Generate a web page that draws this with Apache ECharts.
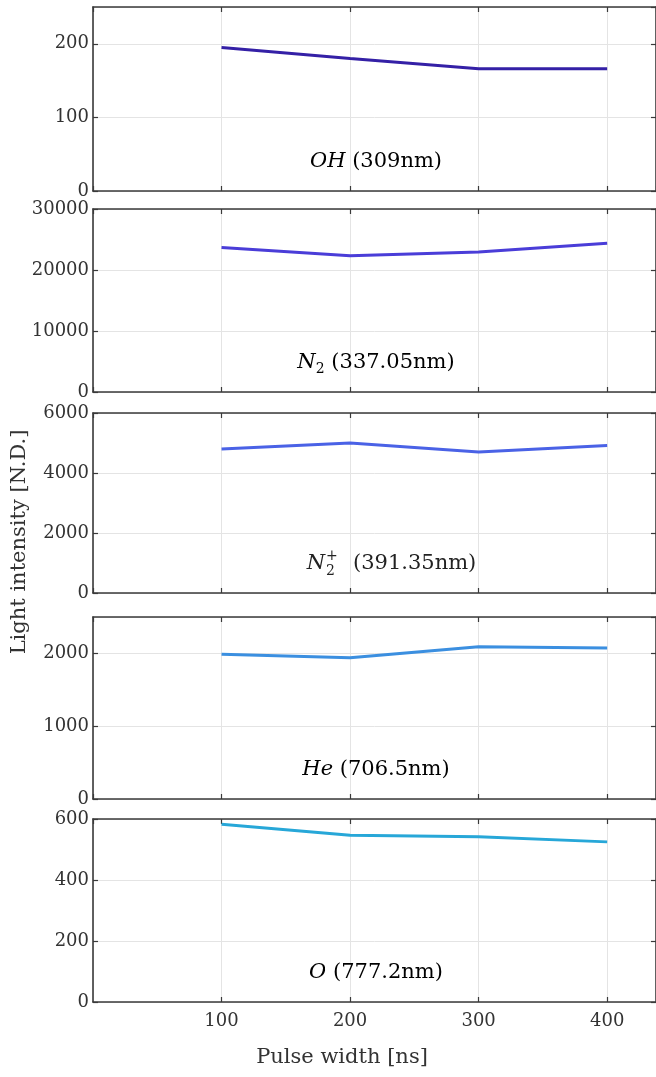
<!DOCTYPE html>
<html>
<head>
<meta charset="utf-8">
<script src="https://cdn.jsdelivr.net/npm/echarts@6/dist/echarts.min.js"></script>
<style>
html,body{margin:0;padding:0;background:#fff;}
#chart{width:656px;height:1077px;}
</style>
</head>
<body>
<div id="chart"></div>
<script>
// ---- data ----
const pulseWidth = [100, 200, 300, 400];
const ohValues  = [195, 180, 166, 166];
const n2Values  = [23700, 22350, 22950, 24400];
const n2pValues = [4800, 5000, 4700, 4920];
const heValues  = [1990, 1940, 2090, 2075];
const oValues   = [583, 547, 542, 525];
const xTicks = [100, 200, 300, 400];
const yMax = [250, 30000, 6000, 2500, 600];
const yStep = [100, 10000, 2000, 1000, 200];
const seriesNames = ['OH', 'N2', 'N2+', 'He', 'O'];
const wavelengths = ['(309nm)', '(337.05nm)', '(391.35nm)', '(706.5nm)', '(777.2nm)'];
const xTitle = 'Pulse width [ns]';
const yTitle = 'Light intensity [N.D.]';

// ---- layout ----
const panelTops = [7, 209, 413, 617, 819];
const panelHeights = [184, 183, 180, 182, 183];
const colors = ['#3420a6', '#4a3dd8', '#4a62e6', '#3b8fe0', '#27a7d8'];
const allValues = [ohValues, n2Values, n2pValues, heValues, oValues];
const FONT = 'DejaVu Serif';
const axisCol = '#3a3a3a';

const chart = echarts.init(document.getElementById('chart'), null, {renderer: 'canvas'});

const plain = v => String(v);
const grids = [], xAxes = [], yAxes = [], series = [];
panelTops.forEach((top, i) => {
  grids.push({left: 93, right: -2, top: top, height: panelHeights[i], show: false});
  const last = i === panelTops.length - 1;
  const lineCfg = {show: true, onZero: false, lineStyle: {color: axisCol, width: 1.6}};
  const tickCfg = {show: true, inside: true, length: 5, lineStyle: {color: axisCol, width: 1.2}};
  xAxes.push({
    type: 'value', gridIndex: i, min: 0, max: 438, interval: 100, position: 'bottom',
    axisLine: lineCfg, axisTick: tickCfg,
    axisLabel: {show: last, fontFamily: FONT, fontSize: 18, color: '#333', margin: 10,
      showMinLabel: false, showMaxLabel: false, formatter: plain},
    splitLine: {show: true, lineStyle: {color: '#e4e4e4', width: 1}}
  });
  xAxes.push({
    type: 'value', gridIndex: i, min: 0, max: 438, interval: 100, position: 'top',
    axisLine: lineCfg, axisTick: tickCfg,
    axisLabel: {show: false}, splitLine: {show: false}
  });
  yAxes.push({
    type: 'value', gridIndex: i, min: 0, max: yMax[i], interval: yStep[i], position: 'left',
    axisLine: lineCfg, axisTick: tickCfg,
    axisLabel: {fontFamily: FONT, fontSize: 18, color: '#333', margin: 4, formatter: plain,
      showMaxLabel: yMax[i] % yStep[i] === 0},
    splitLine: {show: true, lineStyle: {color: '#e4e4e4', width: 1}}
  });
  yAxes.push({
    type: 'value', gridIndex: i, min: 0, max: yMax[i], interval: yStep[i], position: 'right',
    axisLine: lineCfg, axisTick: tickCfg,
    axisLabel: {show: false}, splitLine: {show: false}
  });
  series.push({
    type: 'line', xAxisIndex: 2 * i, yAxisIndex: 2 * i,
    data: pulseWidth.map((x, k) => [x, allValues[i][k]]),
    showSymbol: false, symbol: 'none',
    lineStyle: {color: colors[i], width: 3}, z: 5
  });
});

// annotation labels
const rich = {
  i: {fontFamily: FONT, fontStyle: 'italic', fontSize: 21, color: '#222', lineHeight: 30, verticalAlign: 'middle'},
  t: {fontFamily: FONT, fontSize: 21, color: '#222', lineHeight: 30, verticalAlign: 'middle'},
  sub: {fontFamily: FONT, fontSize: 14, color: '#222', lineHeight: 30, verticalAlign: 'bottom', padding: [0, 0, 2, 0]}
};
const labelTexts = [
  '{i|OH} {t|' + wavelengths[0] + '}',
  '{i|N}{sub|2} {t|' + wavelengths[1] + '}',
  null,
  '{i|He} {t|' + wavelengths[3] + '}',
  '{i|O} {t|' + wavelengths[4] + '}'
];
const graphics = [];
labelTexts.forEach((txt, i) => {
  const cy = panelTops[i] + panelHeights[i] - 29;
  if (txt) {
    graphics.push({
      type: 'text', x: 376, y: cy, z: 10,
      style: {text: txt, rich: rich, align: 'center', verticalAlign: 'middle', font: '21px ' + FONT}
    });
  } else {
    // N2+ : stacked sub/superscript
    const x0 = 325;
    graphics.push({type: 'text', x: x0, y: cy, z: 10,
      style: {text: 'N', fontFamily: FONT, fontStyle: 'italic', fontSize: 21, fill: '#222', align: 'right', verticalAlign: 'middle'}});
    graphics.push({type: 'text', x: x0 + 1, y: cy + 7, z: 10,
      style: {text: '2', fontFamily: FONT, fontSize: 14, fill: '#222', align: 'left', verticalAlign: 'middle'}});
    graphics.push({type: 'text', x: x0 + 1, y: cy - 8, z: 10,
      style: {text: '+', fontFamily: FONT, fontSize: 14, fill: '#222', align: 'left', verticalAlign: 'middle'}});
    graphics.push({type: 'text', x: x0 + 28, y: cy, z: 10,
      style: {text: wavelengths[2], fontFamily: FONT, fontSize: 21, fill: '#222', align: 'left', verticalAlign: 'middle'}});
  }
});
graphics.push({
  type: 'text', x: 342, y: 1058, z: 10,
  style: {text: xTitle, fontFamily: FONT, fontSize: 21, fill: '#333', align: 'center', verticalAlign: 'middle'}
});
graphics.push({
  type: 'text', x: 20, y: 542, rotation: Math.PI / 2, z: 10,
  style: {text: yTitle, fontFamily: FONT, fontSize: 21, fill: '#333', align: 'center', verticalAlign: 'middle'}
});

chart.setOption({
  animation: false,
  backgroundColor: '#fff',
  grid: grids, xAxis: xAxes, yAxis: yAxes, series: series,
  graphic: graphics
});
</script>
</body>
</html>
